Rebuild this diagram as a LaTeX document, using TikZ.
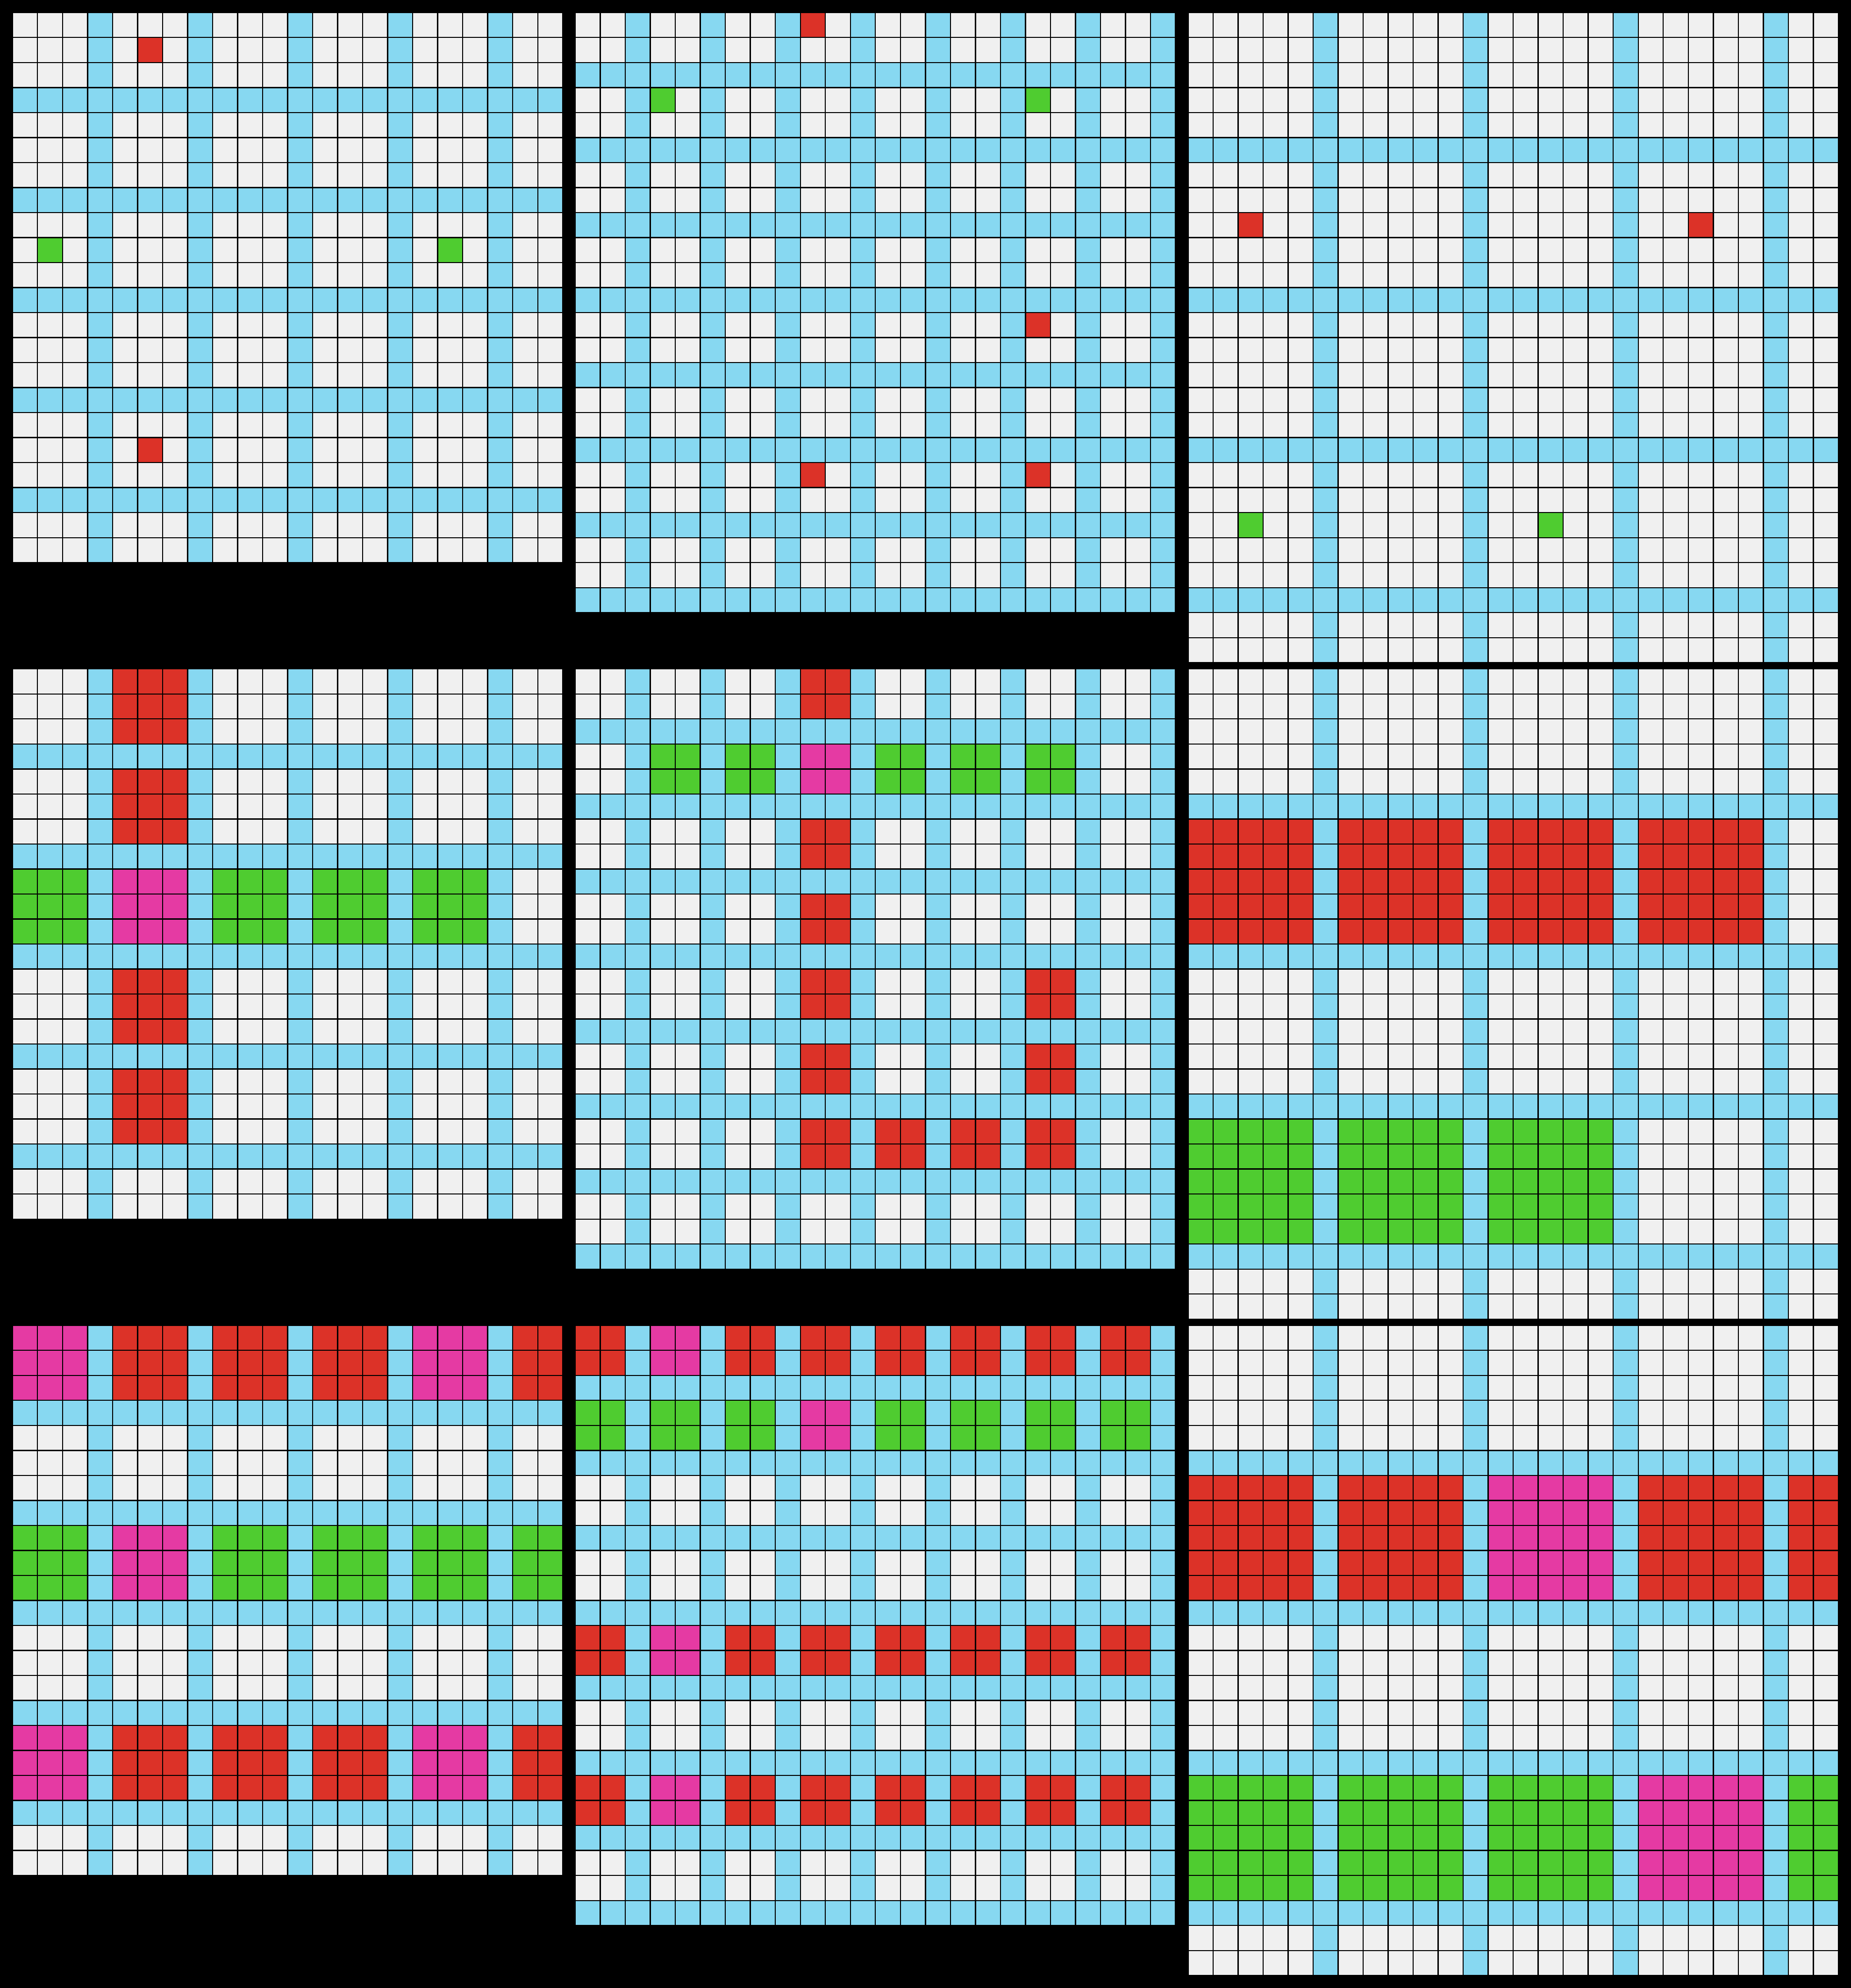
\documentclass[tikz,border=0pt]{standalone}
\usepackage{tikz}
\usepackage{xcolor}
\usetikzlibrary{positioning, calc}

\definecolor{cellgrey}{HTML}{F0F0F0}
\definecolor{cellcyan}{HTML}{87D8F1}
\definecolor{cellred}{HTML}{DC3228}
\definecolor{cellgreen}{HTML}{4FCC30}
\definecolor{cellpink}{HTML}{E53AA3}

\tikzset{
    bgcell/.style={fill=cellgrey},
    stripe/.style={fill=cellcyan},
    redcell/.style={fill=cellred},
    greencell/.style={fill=cellgreen},
    pinkcell/.style={fill=cellpink},
    cellline/.style={draw=black, line width=0.66pt}
}

% grey board of size #1 with cyan stripes at the listed indices #2
\newcommand{\boardbase}[2]{%
    \fill[bgcell] (0,0) rectangle (#1,#1);
    \foreach \s in {#2} {
        \fill[stripe] (\s,0) rectangle ++(1,#1);
        \fill[stripe] (0,\s) rectangle ++(#1,1);
    }
}
% thin black lines round every cell of a board of size #1
\newcommand{\boardlines}[1]{%
    \foreach \k in {0,...,#1} {
        \draw[cellline] (\k,0) -- (\k,#1);
        \draw[cellline] (0,\k) -- (#1,\k);
    }
}

\begin{document}
\begin{tikzpicture}[x=0.5cm, y=-0.5cm]

    % --- BACKGROUND ---
    \fill[black] (0,0) rectangle (74,79.5);
    \useasboundingbox (0,0) rectangle (74,79.5);

    % ================= ROW 1 =================
    % left board, 22 cells
    \begin{scope}[shift={(0.5,0.5)}]
        \boardbase{22}{3,7,11,15,19}
        \fill[redcell] (5,1) rectangle ++(1,1);
        \fill[redcell] (5,17) rectangle ++(1,1);
        \fill[greencell] (1,9) rectangle ++(1,1);
        \fill[greencell] (17,9) rectangle ++(1,1);
        \boardlines{22}
    \end{scope}

    % middle board, 24 cells
    \begin{scope}[shift={(23,0.5)}]
        \boardbase{24}{2,5,8,11,14,17,20,23}
        \fill[redcell] (9,0) rectangle ++(1,1);
        \fill[greencell] (3,3) rectangle ++(1,1);
        \fill[greencell] (18,3) rectangle ++(1,1);
        \fill[redcell] (18,12) rectangle ++(1,1);
        \fill[redcell] (9,18) rectangle ++(1,1);
        \fill[redcell] (18,18) rectangle ++(1,1);
        \boardlines{24}
    \end{scope}

    % right board, 26 cells
    \begin{scope}[shift={(47.5,0.5)}]
        \boardbase{26}{5,11,17,23}
        \fill[redcell] (2,8) rectangle ++(1,1);
        \fill[redcell] (20,8) rectangle ++(1,1);
        \fill[greencell] (2,20) rectangle ++(1,1);
        \fill[greencell] (14,20) rectangle ++(1,1);
        \boardlines{26}
    \end{scope}

    % ================= ROW 2 =================
    % left board
    \begin{scope}[shift={(0.5,26.75)}]
        \boardbase{22}{3,7,11,15,19}
        \foreach \r in {0,4,12,16}
            \fill[redcell] (4,\r) rectangle ++(3,3);
        \foreach \c in {0,8,12,16}
            \fill[greencell] (\c,8) rectangle ++(3,3);
        \fill[pinkcell] (4,8) rectangle ++(3,3);
        \boardlines{22}
    \end{scope}

    % middle board
    \begin{scope}[shift={(23,26.75)}]
        \boardbase{24}{2,5,8,11,14,17,20,23}
        \foreach \c in {3,6,12,15,18}
            \fill[greencell] (\c,3) rectangle ++(2,2);
        \foreach \r in {0,6,9,12,15,18}
            \fill[redcell] (9,\r) rectangle ++(2,2);
        \foreach \r in {12,15,18}
            \fill[redcell] (18,\r) rectangle ++(2,2);
        \foreach \c in {12,15}
            \fill[redcell] (\c,18) rectangle ++(2,2);
        \fill[pinkcell] (9,3) rectangle ++(2,2);
        \boardlines{24}
    \end{scope}

    % right board
    \begin{scope}[shift={(47.5,26.75)}]
        \boardbase{26}{5,11,17,23}
        \foreach \c in {0,6,12,18}
            \fill[redcell] (\c,6) rectangle ++(5,5);
        \foreach \c in {0,6,12}
            \fill[greencell] (\c,18) rectangle ++(5,5);
        \boardlines{26}
    \end{scope}

    % ================= ROW 3 =================
    % left board
    \begin{scope}[shift={(0.5,53)}]
        \boardbase{22}{3,7,11,15,19}
        \foreach \r in {0,16} {
            \foreach \c in {4,8,12}
                \fill[redcell] (\c,\r) rectangle ++(3,3);
            \fill[redcell] (20,\r) rectangle ++(2,3);
            \fill[pinkcell] (0,\r) rectangle ++(3,3);
            \fill[pinkcell] (16,\r) rectangle ++(3,3);
        }
        \foreach \c in {0,8,12,16}
            \fill[greencell] (\c,8) rectangle ++(3,3);
        \fill[greencell] (20,8) rectangle ++(2,3);
        \fill[pinkcell] (4,8) rectangle ++(3,3);
        \boardlines{22}
    \end{scope}

    % middle board
    \begin{scope}[shift={(23,53)}]
        \boardbase{24}{2,5,8,11,14,17,20,23}
        \foreach \r in {0,12,18} {
            \foreach \c in {0,6,9,12,15,18,21}
                \fill[redcell] (\c,\r) rectangle ++(2,2);
            \fill[pinkcell] (3,\r) rectangle ++(2,2);
        }
        \foreach \c in {0,3,6,12,15,18,21}
            \fill[greencell] (\c,3) rectangle ++(2,2);
        \fill[pinkcell] (9,3) rectangle ++(2,2);
        \boardlines{24}
    \end{scope}

    % right board
    \begin{scope}[shift={(47.5,53)}]
        \boardbase{26}{5,11,17,23}
        \foreach \c in {0,6,18}
            \fill[redcell] (\c,6) rectangle ++(5,5);
        \fill[redcell] (24,6) rectangle ++(2,5);
        \fill[pinkcell] (12,6) rectangle ++(5,5);
        \foreach \c in {0,6,12}
            \fill[greencell] (\c,18) rectangle ++(5,5);
        \fill[greencell] (24,18) rectangle ++(2,5);
        \fill[pinkcell] (18,18) rectangle ++(5,5);
        \boardlines{26}
    \end{scope}

\end{tikzpicture}
\end{document}
